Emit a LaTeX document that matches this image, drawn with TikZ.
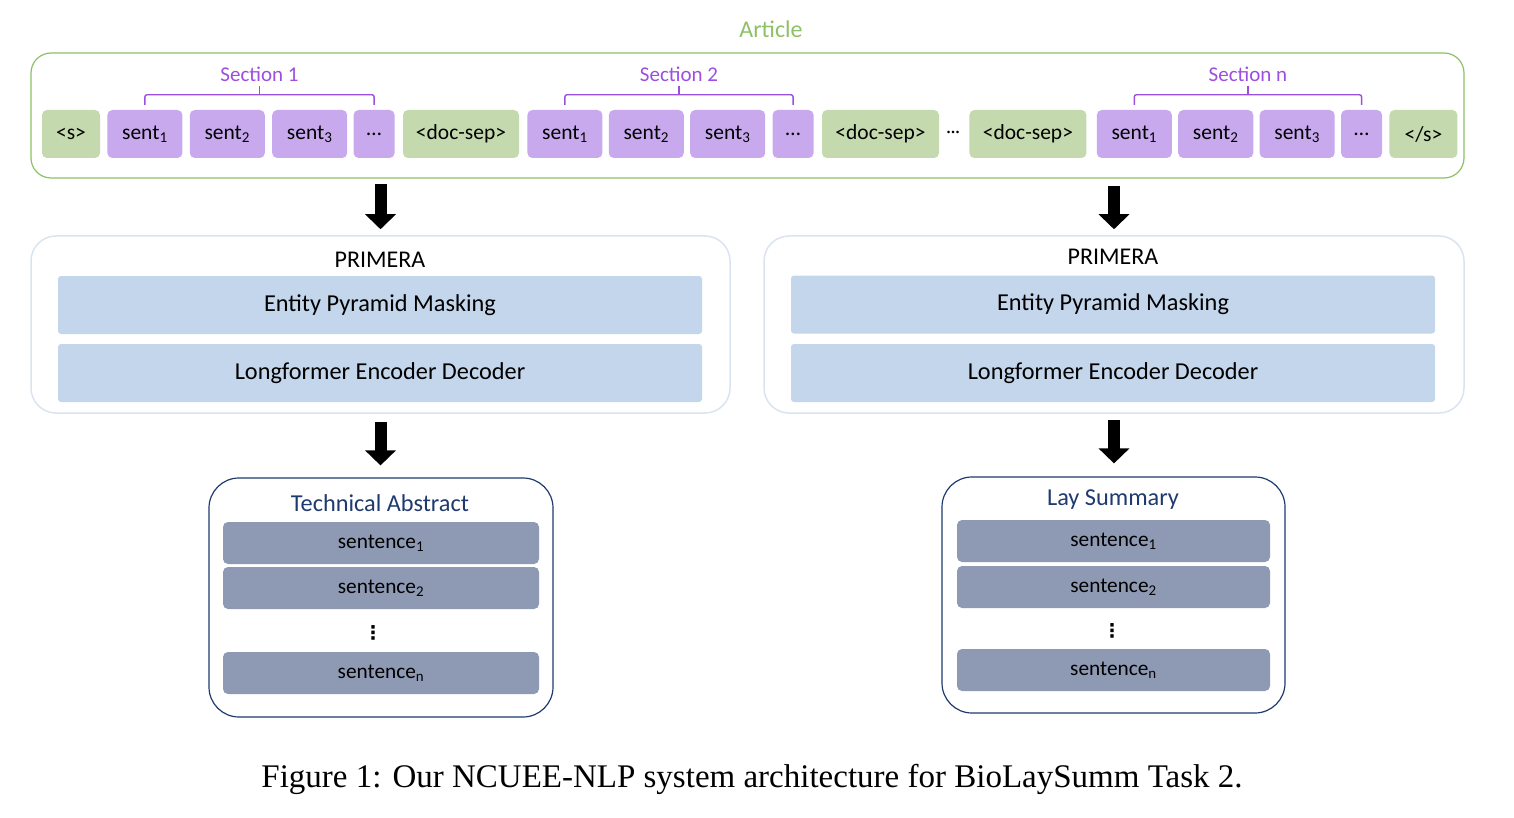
\documentclass[tikz,border=0pt]{standalone}
\usepackage{fontspec}
\setmainfont{Carlito}
\newfontfamily\capfont{Liberation Serif}
\newfontfamily\symfont{DejaVu Sans}
\usetikzlibrary{positioning,arrows.meta,calc}

\definecolor{artgreen}{HTML}{8EC066}
\definecolor{sepfill}{HTML}{C4D9AE}
\definecolor{sentfill}{HTML}{C8A9EE}
\definecolor{secpurple}{HTML}{9B4FE0}
\definecolor{primline}{HTML}{DAE3F0}
\definecolor{layerfill}{HTML}{C3D6EC}
\definecolor{outnavy}{HTML}{1F3A6E}
\definecolor{linefill}{HTML}{8E9AB4}

\tikzset{
  tok/.style={rounded corners=5pt, minimum height=48pt, inner sep=0pt, font=\fontsize{21.5}{24}\selectfont},
  septok/.style={tok, fill=sepfill, minimum width=116pt},
  senttok/.style={tok, fill=sentfill, minimum width=75pt},
  dotstok/.style={tok, fill=sentfill, minimum width=41pt},
  brace/.style={draw=secpurple, line width=1.4pt, rounded corners=2pt},
  sectitle/.style={text=secpurple, inner sep=2pt, font=\fontsize{21}{24}\selectfont},
  artbox/.style={draw=artgreen, line width=1.2pt, rounded corners=20pt, minimum width=1433pt, minimum height=125pt},
  primbox/.style={draw=primline, line width=1.5pt, rounded corners=25pt, minimum width=699pt, minimum height=177pt},
  primtitle/.style={font=\fontsize{24}{27}\selectfont},
  layerbox/.style={fill=layerfill, rounded corners=3pt, minimum width=644pt, minimum height=58pt, font=\fontsize{24.3}{27}\selectfont},
  outbox/.style={draw=outnavy, line width=1.2pt, rounded corners=30pt},
  outtitle/.style={text=outnavy, font=\fontsize{24.3}{27}\selectfont},
  sentbox/.style={fill=linefill, rounded corners=5pt, minimum height=42pt, inner sep=0pt, font=\fontsize{21.3}{24}\selectfont},
  vdotsnode/.style={inner sep=0pt, font=\symfont\bfseries\fontsize{19}{20}\selectfont},
  bigarrow/.style={line width=12pt, -{Triangle[width=30pt,length=15pt]}}
}

\begin{document}
\begin{tikzpicture}[x=1pt,y=-1pt,node distance=7pt]
\useasboundingbox (0,0) rectangle (1514,818);

\node[artbox] (article) at (747.5,115.5) {};
\node[text=artgreen, font=\fontsize{24}{27}\selectfont] (arttitle) at (771,29) {Article};

\node[septok, minimum width=58pt] (bos) at (71,134) {<s>};
\node[senttok, right=of bos] (s1a) {sent\textsubscript{1}};
\node[senttok, right=of s1a] (s2a) {sent\textsubscript{2}};
\node[senttok, right=of s2a] (s3a) {sent\textsubscript{3}};
\node[dotstok, right=6pt of s3a] (d1a) {…};
\node[septok, right=8pt of d1a] (sepa) {<doc-sep>};
\node[senttok, right=8pt of sepa] (s1b) {sent\textsubscript{1}};
\node[senttok, right=6pt of s1b] (s2b) {sent\textsubscript{2}};
\node[senttok, right=6pt of s2b] (s3b) {sent\textsubscript{3}};
\node[dotstok, right=of s3b] (d1b) {…};
\node[septok, right=8pt of d1b, minimum width=117pt] (sepb) {<doc-sep>};
\node[right=7pt of sepb, inner sep=0pt, font=\fontsize{18}{20}\selectfont] (gap) {\textperiodcentered\textperiodcentered\textperiodcentered};
\node[septok, right=9pt of gap, minimum width=117pt] (sepc) {<doc-sep>};
\node[senttok, right=10pt of sepc] (s1c) {sent\textsubscript{1}};
\node[senttok, right=6pt of s1c] (s2c) {sent\textsubscript{2}};
\node[senttok, right=6pt of s2c] (s3c) {sent\textsubscript{3}};
\node[dotstok, right=6pt of s3c] (d1c) {…};
\node[septok, right=of d1c, minimum width=68pt] (eos) {</s>};

\foreach \a/\b/\t in {s1a/d1a/Section 1,s1b/d1b/Section 2,s1c/d1c/Section n}{
  \draw[brace] ([yshift=5pt]\a.north) -- ([yshift=15pt]\a.north) -- ([yshift=15pt]\b.north) -- ([yshift=5pt]\b.north);
  \draw[brace] ($([yshift=15pt]\a.north)!0.5!([yshift=15pt]\b.north)$) -- ++(0,-9) node[above=1pt, sectitle] (lab-\a) {\t};
}

\node[primbox] (prim1) at (380.5,324.5) {};
\node[primtitle] (primt1) at (380,260) {PRIMERA};
\node[layerbox] (epm1) at (380,305) {Entity Pyramid Masking};
\node[layerbox] (led1) at (380,373) {Longformer Encoder Decoder};

\node[primbox, minimum width=700pt] (prim2) at (1114,324.5) {};
\node[primtitle] (primt2) at (1113,257) {PRIMERA};
\node[layerbox] (epm2) at (1113,304.5) {Entity Pyramid Masking};
\node[layerbox] (led2) at (1113,373) {Longformer Encoder Decoder};

\node[outbox, minimum width=344pt, minimum height=239pt] (tech) at (381,597.5) {};
\node[outtitle] (techt) at (380,503) {Technical Abstract};
\node[sentbox, minimum width=316pt] (ta1) at (381,543) {sentence\textsubscript{1}};
\node[sentbox, minimum width=316pt] (ta2) at (381,588) {sentence\textsubscript{2}};
\node[vdotsnode] (tadots) at (373,633) {⋮};
\node[sentbox, minimum width=316pt] (tan) at (381,673) {sentence\textsubscript{n}};

\node[outbox, minimum width=343pt, minimum height=236pt] (lay) at (1113.5,595) {};
\node[outtitle] (layt) at (1113,500) {Lay Summary};
\node[sentbox, minimum width=313pt] (ls1) at (1113.5,541) {sentence\textsubscript{1}};
\node[sentbox, minimum width=313pt] (ls2) at (1113.5,587) {sentence\textsubscript{2}};
\node[vdotsnode] (lsdots) at (1112,631) {⋮};
\node[sentbox, minimum width=313pt] (lsn) at (1113.5,670) {sentence\textsubscript{n}};

\draw[bigarrow, shorten <=5pt, shorten >=6pt] (prim1.north |- article.south) -- (prim1.north);
\draw[bigarrow, shorten <=7pt, shorten >=6pt] (prim2.north |- article.south) -- (prim2.north);
\draw[bigarrow, shorten <=8pt, shorten >=12pt] (prim1.south) -- (prim1.south |- tech.north);
\draw[bigarrow, shorten <=6pt, shorten >=13pt] (prim2.south) -- (prim2.south |- lay.north);

\node[font=\capfont\fontsize{33}{38}\selectfont] (caption) at (752,779) {Figure 1: Our NCUEE-NLP system architecture for BioLaySumm Task 2.};
\end{tikzpicture}
\end{document}
